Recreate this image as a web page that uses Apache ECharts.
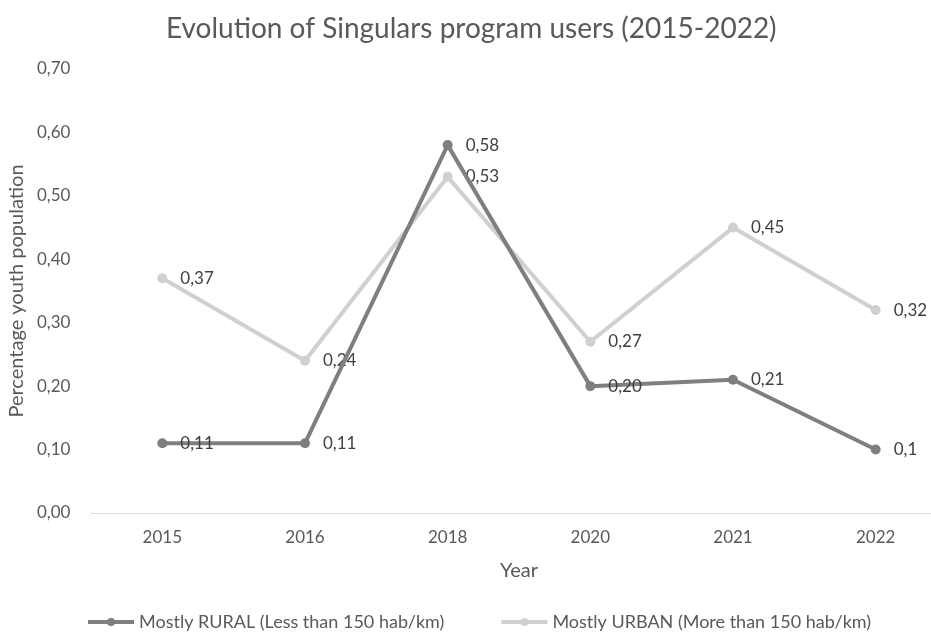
<!DOCTYPE html>
<html>
<head>
<meta charset="utf-8">
<script src="https://cdn.jsdelivr.net/npm/echarts@6/dist/echarts.min.js"></script>
<style>html,body{margin:0;padding:0;background:#fff;}#c{width:931px;height:633px;}</style>
</head>
<body>
<div id="c"></div>
<script>
const years = ['2015', '2016', '2018', '2020', '2021', '2022'];
const ruralValues = [0.11, 0.11, 0.58, 0.20, 0.21, 0.10];
const ruralLabels = ['0,11', '0,11', '0,58', '0,20', '0,21', '0,1'];
const urbanValues = [0.37, 0.24, 0.53, 0.27, 0.45, 0.32];
const urbanLabels = ['0,37', '0,24', '0,53', '0,27', '0,45', '0,32'];
const ruralName = 'Mostly RURAL (Less than 150 hab/km)';
const urbanName = 'Mostly URBAN (More than 150 hab/km)';

const FONT = 'Lato';
const chart = echarts.init(document.getElementById('c'));
function mkData(vals, labels) {
  return vals.map((v, i) => ({ value: v, labelText: labels[i] }));
}
chart.setOption({
  animation: false,
  backgroundColor: '#fff',
  title: {
    text: 'Evolution of Singulars program users (2015-2022)',
    left: 161, top: 10,
    textStyle: { fontFamily: FONT, fontSize: 28, fontWeight: 'normal', color: '#595959' }
  },
  legend: {
    left: 86, bottom: 2, padding: 0,
    itemWidth: 46, itemHeight: 10, itemGap: 55,
    lineStyle: { width: 4 },
    textStyle: { fontFamily: FONT, fontSize: 18, color: '#595959' },
    data: [ruralName, urbanName]
  },
  grid: { left: 91, top: 69, bottom: 120, right: -16, containLabel: false, outerBoundsMode: 'none' },
  xAxis: {
    type: 'category', data: years, boundaryGap: true,
    name: 'Year', nameLocation: 'middle', nameGap: 48,
    nameTextStyle: { fontFamily: FONT, fontSize: 20, color: '#595959' },
    axisLine: { lineStyle: { color: '#d9d9d9', width: 1 } },
    axisTick: { show: false },
    axisLabel: { fontFamily: FONT, fontSize: 17, color: '#595959', margin: 16 }
  },
  yAxis: {
    type: 'value', min: 0, max: 0.7, interval: 0.1,
    name: 'Percentage youth population', nameLocation: 'middle', nameGap: 63,
    nameTextStyle: { fontFamily: FONT, fontSize: 20, color: '#595959' },
    axisLine: { show: false }, axisTick: { show: false },
    splitLine: { show: false },
    axisLabel: { fontFamily: FONT, fontSize: 17, color: '#595959', margin: 54, align: 'left',
      formatter: v => v.toFixed(2).replace('.', ',') }
  },
  series: [
    {
      name: ruralName, type: 'line', data: mkData(ruralValues, ruralLabels),
      color: '#7f7f7f', symbol: 'circle', symbolSize: 10, z: 3,
      lineStyle: { width: 4, color: '#7f7f7f' },
      itemStyle: { color: '#7f7f7f' },
      label: { show: true, position: 'right', distance: 13, fontFamily: FONT, fontSize: 17, color: '#404040',
        formatter: p => p.data.labelText }
    },
    {
      name: urbanName, type: 'line', data: mkData(urbanValues, urbanLabels),
      color: '#d0d0d0', symbol: 'circle', symbolSize: 10, z: 2,
      lineStyle: { width: 4, color: '#d0d0d0' },
      itemStyle: { color: '#d0d0d0' },
      label: { show: true, position: 'right', distance: 13, fontFamily: FONT, fontSize: 17, color: '#404040',
        formatter: p => p.data.labelText }
    }
  ]
});
</script>
</body>
</html>
